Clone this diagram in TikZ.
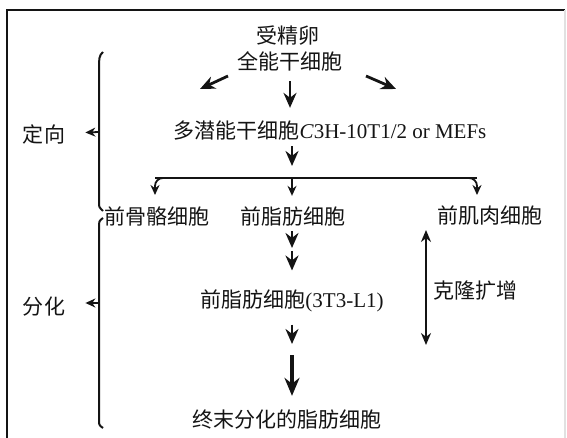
\documentclass[tikz,border=0pt]{standalone}
\usepackage{fontspec}
\setmainfont{Liberation Serif}
\newfontfamily\zhfont{Noto Sans CJK SC}
\newcommand{\zh}[1]{{\zhfont #1}}
\usetikzlibrary{arrows.meta, positioning, calc}
\definecolor{inkblack}{RGB}{20, 20, 20}
\definecolor{framegray}{RGB}{225, 225, 225}
\tikzset{
  >=Stealth,
  flowarrow/.style={-{Stealth[length=7.5pt, width=6.5pt]}, line width=1.4pt, inkblack},
  forkarrow/.style={-{Stealth[length=5pt, width=4.5pt]}, line width=0.9pt, inkblack, rounded corners=4pt},
  boldarrow/.style={-{Stealth[length=9pt, width=7.5pt]}, line width=2.4pt, inkblack},
  sidearrow/.style={-{Stealth[length=5pt, width=4.5pt]}, line width=0.9pt, inkblack},
  twoarrow/.style={{Stealth[length=6pt, width=5pt]}-{Stealth[length=6pt, width=5pt]}, line width=1pt, inkblack},
  bracket/.style={line width=1pt, inkblack},
  lbl/.style={inner sep=1pt, text=inkblack, font=\fontsize{10.5}{12}\selectfont}
}

\begin{document}
\begin{tikzpicture}[x=0.5pt, y=-0.5pt]
    \useasboundingbox (0,0) rectangle (567,438);
    % frame
    \draw[line width=1pt, inkblack] (7,450) -- (7,10) -- (565,10);
    \draw[line width=0.6pt, framegray] (565,10) -- (565,450);

    % cells
    \node[lbl] (zygote) at (288,36) {\zh{受精卵}};
    \node[lbl] (toti) at (290,61) {\zh{全能干细胞}};
    \node[lbl] (mef) at (330,131) {\zh{多潜能干细胞}\textit{C}3H-10T1/2 or MEFs};
    \node[lbl] (bone) at (157,216) {\zh{前骨骼细胞}};
    \node[lbl] (fat) at (293,216) {\zh{前脂肪细胞}};
    \node[lbl] (muscle) at (490,216) {\zh{前肌肉细胞}};
    \node[lbl] (l1) at (292,301) {\zh{前脂肪细胞}(3T3-L1)};
    \node[lbl] (term) at (287,420) {\zh{终末分化的脂肪细胞}};
    \node[lbl] (clone) at (475,291) {\zh{克隆扩增}};
    \node[lbl] (dingxiang) at (44,134) {\zh{定向}};
    \node[lbl] (fenhua) at (44,307) {\zh{分化}};

    % free ends
    \coordinate (ls) at (228,76);
    \coordinate (le) at (200,89);
    \coordinate (rs) at (366,76);
    \coordinate (re) at (396,89);
    \coordinate (fork) at (292,178);
    \coordinate (btip) at (155,195);
    \coordinate (mtip) at (477,195);
    \coordinate (dbl) at (292,250);
    \coordinate (gap) at (292,349);
    \coordinate (cu) at (426,230);
    \coordinate (cd) at (426,345);
    \coordinate (ubr) at (99,132);
    \coordinate (lbr) at (99,303);

    % arrows
    \draw[flowarrow] (ls) -- (le);
    \draw[flowarrow] (rs) -- (re);
    \draw[flowarrow, shorten <=4pt, shorten >=5.5pt] (toti) -- (mef.north -| toti);
    \draw[flowarrow, shorten <=1.5pt, shorten >=6pt] (mef.south -| fork) -- (fork);
    \draw[line width=0.9pt, inkblack] (btip |- fork) -- (mtip |- fork);
    \draw[forkarrow] (fork) -| (btip);
    \draw[forkarrow] (fork) -| (mtip);
    \draw[forkarrow, shorten >=4pt] (fork) -- (fat.north -| fork);
    \draw[flowarrow, shorten <=1.5pt, shorten >=1pt] (fat.south -| dbl) -- (dbl);
    \draw[flowarrow, shorten <=0.5pt, shorten >=8.5pt] (dbl) -- (l1.north -| dbl);
    \draw[flowarrow, shorten <=5pt, shorten >=2.5pt] (l1.south -| gap) -- (gap);
    \draw[boldarrow, shorten <=3pt, shorten >=6pt] (gap) -- (term.north -| gap);
    \draw[twoarrow] (cu) -- (cd);

    % brackets
    \draw[bracket] (103,52) .. controls (99,55) and (99,60) .. (99,67) -- (99,203) .. controls (99,207) .. (103,211);
    \draw[bracket] (103,218) .. controls (99,221) .. (99,228) -- (99,420) .. controls (99,425) .. (103,428);
    \draw[sidearrow, shorten >=9pt] (ubr) -- (dingxiang);
    \draw[sidearrow, shorten >=9pt] (lbr) -- (fenhua.east |- lbr);
\end{tikzpicture}
\end{document}
